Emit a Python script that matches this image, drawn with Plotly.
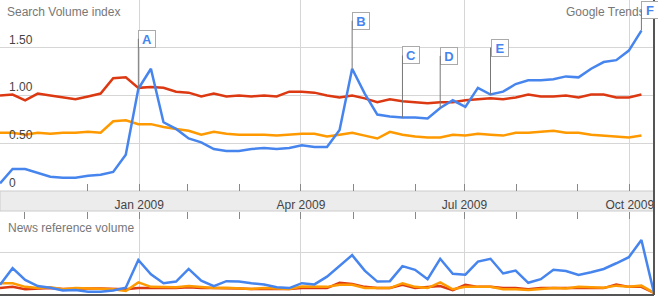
import pandas as pd
import plotly.graph_objects as go

# ---------------- data ----------------
start_week = pd.Timestamp("2008-10-15 12:00")
n_weeks_news = 53
n_weeks_search = 52

search_blue = [0.08, 0.23, 0.23, 0.19, 0.15, 0.14, 0.14, 0.16, 0.17, 0.20,
               0.38, 1.07, 1.28, 0.72, 0.65, 0.55, 0.51, 0.44, 0.42, 0.42,
               0.44, 0.45, 0.44, 0.45, 0.48, 0.46, 0.46, 0.64, 1.28, 1.02,
               0.80, 0.78, 0.77, 0.77, 0.76, 0.87, 0.95, 0.88, 1.08, 1.01,
               1.04, 1.12, 1.16, 1.16, 1.17, 1.20, 1.19, 1.28, 1.35, 1.37,
               1.47, 1.68]
search_red = [1.00, 1.01, 0.95, 1.02, 1.00, 0.98, 0.96, 0.99, 1.02, 1.18,
              1.19, 1.08, 1.09, 1.08, 1.04, 1.03, 0.99, 1.02, 0.99, 1.00,
              0.99, 1.00, 0.99, 1.04, 1.04, 1.03, 1.00, 0.98, 1.00, 0.97,
              0.93, 0.96, 0.94, 0.93, 0.92, 0.93, 0.93, 0.95, 0.96, 0.97,
              0.96, 0.98, 1.01, 0.99, 0.99, 1.00, 0.98, 1.01, 1.01, 0.98,
              0.98, 1.01]
search_orange = [0.61, 0.61, 0.59, 0.61, 0.60, 0.61, 0.61, 0.62, 0.61, 0.73,
                 0.74, 0.70, 0.70, 0.67, 0.65, 0.63, 0.59, 0.62, 0.60, 0.59,
                 0.59, 0.59, 0.58, 0.59, 0.60, 0.60, 0.57, 0.59, 0.61, 0.58,
                 0.55, 0.62, 0.59, 0.57, 0.56, 0.56, 0.59, 0.58, 0.60, 0.59,
                 0.58, 0.61, 0.61, 0.62, 0.63, 0.61, 0.61, 0.59, 0.58, 0.57,
                 0.56, 0.58]

news_blue = [0.20, 0.61, 0.32, 0.17, 0.13, 0.06, 0.07, 0.03, 0.03, 0.06,
             0.13, 0.81, 0.46, 0.24, 0.28, 0.59, 0.30, 0.17, 0.29, 0.28,
             0.24, 0.21, 0.14, 0.12, 0.24, 0.21, 0.40, 0.67, 0.93, 0.55,
             0.28, 0.29, 0.66, 0.57, 0.34, 0.84, 0.47, 0.45, 0.77, 0.84,
             0.48, 0.55, 0.25, 0.34, 0.57, 0.54, 0.44, 0.51, 0.59, 0.73,
             0.88, 1.30, 0.00]
news_orange = [0.24, 0.24, 0.15, 0.12, 0.14, 0.09, 0.12, 0.11, 0.11, 0.09,
               0.05, 0.26, 0.15, 0.14, 0.14, 0.17, 0.14, 0.12, 0.13, 0.12,
               0.10, 0.12, 0.11, 0.10, 0.16, 0.15, 0.15, 0.20, 0.20, 0.12,
               0.12, 0.12, 0.24, 0.15, 0.12, 0.26, 0.09, 0.15, 0.15, 0.15,
               0.09, 0.09, 0.07, 0.09, 0.12, 0.11, 0.15, 0.14, 0.13, 0.18,
               0.15, 0.18, 0.00]
news_red = [0.12, 0.15, 0.09, 0.10, 0.12, 0.10, 0.11, 0.11, 0.11, 0.10,
            0.09, 0.12, 0.12, 0.12, 0.12, 0.14, 0.12, 0.12, 0.12, 0.11,
            0.10, 0.10, 0.10, 0.10, 0.12, 0.12, 0.12, 0.25, 0.22, 0.15,
            0.12, 0.12, 0.20, 0.12, 0.15, 0.17, 0.07, 0.20, 0.15, 0.15,
            0.12, 0.12, 0.09, 0.12, 0.12, 0.12, 0.12, 0.12, 0.12, 0.21,
            0.15, 0.15, 0.00]

major_ticks = ["2009-01-01", "2009-04-01", "2009-07-01", "2009-10-01"]
major_labels = ["Jan 2009", "Apr 2009", "Jul 2009", "Oct 2009"]
minor_ticks = ["2008-10-29", "2008-12-03", "2009-01-28", "2009-02-26",
               "2009-04-30", "2009-06-04", "2009-07-30", "2009-09-02"]
y_ticks = [0, 0.5, 1.0, 1.5]
y_labels = ["0", "0.50", "1.00", "1.50"]

event_letters = ["A", "B", "C", "D", "E", "F"]
event_week = [11, 28, 32, 35, 39, 51]

# ---------------- styles / layout ----------------
event_offsets = [-50, -48, -62, -52, -47, -21]  # pixel offset of label box
BLUE, RED, ORANGE = "#4684ee", "#dc3912", "#ff9900"
FONT = "Liberation Sans, Arial, Helvetica, sans-serif"
W, H = 658, 298
R_MARGIN = 4
def py(px):  # pixel row -> paper fraction
    return 1 - px / H

weeks = pd.date_range(start_week, periods=n_weeks_news, freq="7D")
x_search = weeks[:n_weeks_search]
x_range = [start_week, start_week + pd.Timedelta(days=364)]

fig = go.Figure()
for vals, col in [(search_orange, ORANGE), (search_red, RED), (search_blue, BLUE)]:
    fig.add_trace(go.Scatter(x=x_search, y=vals, mode="lines", xaxis="x", yaxis="y",
                             line=dict(color=col, width=2.5), hoverinfo="skip"))
for vals, col in [(news_red, RED), (news_orange, ORANGE), (news_blue, BLUE)]:
    fig.add_trace(go.Scatter(x=weeks, y=vals, mode="lines", xaxis="x2", yaxis="y2",
                             line=dict(color=col, width=2.5), hoverinfo="skip"))

grid = "#d6d6d6"
tickc = "#888888"
common_x = dict(type="date", range=x_range, tickmode="array", tickvals=major_ticks,
                ticks="inside", ticklen=7, tickcolor=tickc, tickwidth=1,
                showgrid=True, gridcolor=grid, gridwidth=1, zeroline=False, showline=False,
                minor=dict(tickmode="array", tickvals=minor_ticks, ticks="inside",
                           ticklen=7, tickcolor=tickc, tickwidth=1, showgrid=False))

fig.update_layout(
    width=W, height=H, margin=dict(l=0, r=R_MARGIN, t=0, b=0),
    paper_bgcolor="white", plot_bgcolor="white", showlegend=False,
    font=dict(family=FONT, size=12, color="#444"),
    xaxis=dict(domain=[0, 1], anchor="y", showticklabels=False, **common_x),
    yaxis=dict(domain=[py(191), 1], range=[0, 2.0], tickmode="array", tickvals=y_ticks,
               ticktext=y_labels, ticklabelposition="inside top", ticks="",
               ticklabelstandoff=6,
               tickfont=dict(size=12, color="#444"), showgrid=True, gridcolor=grid,
               zeroline=False, showline=False),
    xaxis2=dict(domain=[0, 1], anchor="y2", side="top", matches="x", showticklabels=True,
                ticktext=major_labels, tickfont=dict(size=12, color="#444"), **common_x),
    yaxis2=dict(domain=[py(295), py(212)], range=[-0.05, 1.99], tickmode="array",
                tickvals=[1.0], showticklabels=False, ticks="", showgrid=True,
                gridcolor=grid, zeroline=False, showline=False),
)

# date band between the two panels
fig.add_shape(type="rect", xref="paper", yref="paper", x0=0, x1=1, y0=py(211), y1=py(191),
              fillcolor="#ececec", line=dict(color="#cccccc", width=1), layer="below")
# screenshot frame (right and bottom)
fig.add_shape(type="line", xref="paper", yref="paper", x0=1.0, x1=1.0, y0=py(295), y1=1,
              line=dict(color="#555555", width=2))
fig.add_shape(type="line", xref="paper", yref="paper", x0=0, x1=1.0, y0=py(295), y1=py(295),
              line=dict(color="#555555", width=2))

fig.add_annotation(text="Search Volume index", xref="paper", yref="paper", x=5 / (W - R_MARGIN),
                   y=py(12), xanchor="left", yanchor="middle", showarrow=False,
                   font=dict(size=12, color="#777"))
fig.add_annotation(text="Google Trends", xref="paper", yref="paper", x=647 / (W - R_MARGIN),
                   y=py(12), xanchor="right", yanchor="middle", showarrow=False,
                   font=dict(size=12, color="#777"))
fig.add_annotation(text="News reference volume", xref="paper", yref="paper", x=6 / (W - R_MARGIN),
                   y=py(228), xanchor="left", yanchor="middle", showarrow=False,
                   font=dict(size=12, color="#777"))

for letter, wk, off in zip(event_letters, event_week, event_offsets):
    fig.add_annotation(text="<b>%s</b>" % letter, xref="x", yref="y",
                       x=x_search[wk], y=search_blue[wk], ax=0, ay=off,
                       xanchor="left", yanchor="middle", showarrow=True, arrowhead=0,
                       arrowwidth=1, arrowcolor="#777", bgcolor="white",
                       bordercolor="#aaaaaa", borderwidth=1, borderpad=2,
                       width=12, height=12, align="center", valign="middle",
                       font=dict(size=13, color=BLUE))

fig.write_html("out.html", config={"displayModeBar": False})
